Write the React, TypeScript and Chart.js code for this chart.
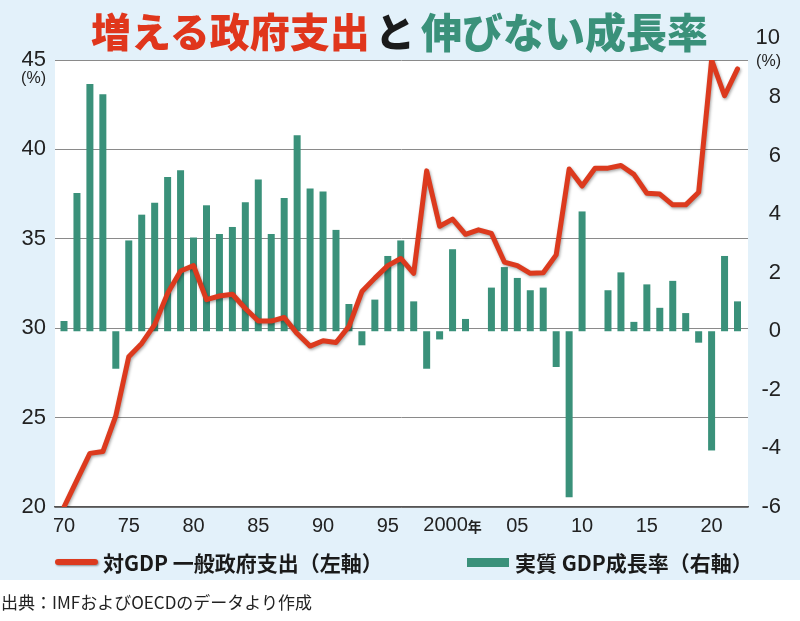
import React, { useEffect, useRef } from 'react';
import { Chart, registerables } from 'chart.js';

Chart.register(...registerables);

// ---- data ----
const years = [
  1970, 1971, 1972, 1973, 1974, 1975, 1976, 1977, 1978, 1979,
  1980, 1981, 1982, 1983, 1984, 1985, 1986, 1987, 1988, 1989,
  1990, 1991, 1992, 1993, 1994, 1995, 1996, 1997, 1998, 1999,
  2000, 2001, 2002, 2003, 2004, 2005, 2006, 2007, 2008, 2009,
  2010, 2011, 2012, 2013, 2014, 2015, 2016, 2017, 2018, 2019,
  2020, 2021, 2022,
];

// 対GDP 一般政府支出 (%, left axis)
const govSpending = [
  20.0, 21.5, 23.0, 23.1, 25.1, 28.4, 29.15, 30.2, 31.95, 33.2,
  33.5, 31.6, 31.8, 31.9, 31.1, 30.4, 30.4, 30.6, 29.7, 29.0,
  29.3, 29.2, 30.1, 32.05, 32.8, 33.5, 33.9, 33.07, 38.8, 35.7,
  36.1, 35.25, 35.5, 35.3, 33.7, 33.5, 33.07, 33.1, 34.1, 38.9,
  37.95, 38.95, 38.95, 39.1, 38.6, 37.55, 37.5, 36.9, 36.9, 37.6,
  45.0, 43.0, 44.5,
];

// 実質 GDP 成長率 (%, right axis)
const realGrowth = [
  0.35, 4.72, 8.44, 8.09, -1.28, 3.1, 3.98, 4.39, 5.27, 5.5,
  3.2, 4.3, 3.32, 3.56, 4.4, 5.18, 3.32, 4.55, 6.69, 4.87,
  4.77, 3.46, 0.93, -0.48, 1.08, 2.57, 3.1, 1.02, -1.28, -0.28,
  2.8, 0.42, 0.0, 1.49, 2.19, 1.82, 1.4, 1.49, -1.22, -5.67,
  4.09, 0.0, 1.4, 2.01, 0.32, 1.6, 0.8, 1.72, 0.62, -0.39,
  -4.07, 2.57, 1.02,
];

const xTickYears = [1970, 1975, 1980, 1985, 1990, 1995, 2000, 2005, 2010, 2015, 2020];
const xTickLabels = ['70', '75', '80', '85', '90', '95', '2000', '05', '10', '15', '20'];
const leftTicks = [20, 25, 30, 35, 40, 45];
const rightTicks = [-6, -4, -2, 0, 2, 4, 6, 8];
const rightTopLabel = 10;

const RED = '#dc3a1e';
const GREEN = '#3a917a';
const BLUE_BG = '#e3f1fa';
const TICK_FONT = '"Liberation Sans", Arial, sans-serif';
const JP_FONT = '"Noto Sans CJK JP", "Noto Sans", sans-serif';

const plotBgPlugin = {
  id: 'plotBg',
  beforeDraw(chart: any) {
    const { ctx, chartArea } = chart;
    ctx.save();
    ctx.fillStyle = '#ffffff';
    ctx.fillRect(chartArea.left, chartArea.top, chartArea.right - chartArea.left, chartArea.bottom - chartArea.top);
    ctx.restore();
  },
};

const lineShadowPlugin = {
  id: 'lineShadow',
  beforeDatasetDraw(chart: any, args: any) {
    if (args.meta.type === 'line') {
      const ctx = chart.ctx;
      ctx.save();
      ctx.shadowColor = 'rgba(0,0,0,0.35)';
      ctx.shadowBlur = 3;
      ctx.shadowOffsetX = 1;
      ctx.shadowOffsetY = 1.5;
    }
  },
  afterDatasetDraw(chart: any, args: any) {
    if (args.meta.type === 'line') {
      chart.ctx.restore();
    }
  },
};

const extraLabelsPlugin = {
  id: 'extraLabels',
  afterDraw(chart: any) {
    const { ctx, scales } = chart;
    const yL = scales.y;
    const yR = scales.y2;
    const x = scales.x;
    ctx.save();
    ctx.fillStyle = '#222';
    ctx.textBaseline = 'middle';
    // (%) under left 45
    ctx.font = `16px ${TICK_FONT}`;
    ctx.textAlign = 'right';
    ctx.fillText('(%)', 46, yL.getPixelForValue(45) + 19);
    // right top "10" and (%)
    const y10 = yR.getPixelForValue(rightTopLabel);
    ctx.font = `22px ${TICK_FONT}`;
    ctx.textAlign = 'right';
    ctx.fillText(String(rightTopLabel), 780, y10);
    ctx.font = `16px ${TICK_FONT}`;
    ctx.fillText('(%)', 781, y10 + 23);
    // 2000年
    const px = x.getPixelForValue(2000);
    const yLab = chart.chartArea.bottom + 18;
    ctx.font = `20px ${TICK_FONT}`;
    const w1 = ctx.measureText('2000').width;
    ctx.font = `bold 14px ${JP_FONT}`;
    const w2 = ctx.measureText('年').width;
    const start = px - (w1 + w2) / 2;
    ctx.textAlign = 'left';
    ctx.font = `20px ${TICK_FONT}`;
    ctx.fillText('2000', start, yLab);
    ctx.font = `bold 14px ${JP_FONT}`;
    ctx.fillText('年', start + w1, yLab + 2);
    ctx.restore();
  },
};

function ChartCanvas() {
  const ref = useRef<HTMLCanvasElement | null>(null);
  useEffect(() => {
    if (!ref.current) return;
    const chart = new Chart(ref.current, {
      type: 'bar',
      data: {
        datasets: [
          {
            type: 'line',
            label: '対GDP 一般政府支出（左軸）',
            data: years.map((yr, i) => ({ x: yr, y: govSpending[i] })),
            yAxisID: 'y',
            xAxisID: 'x',
            borderColor: RED,
            borderWidth: 5,
            pointRadius: 0,
            tension: 0,
            borderJoinStyle: 'round',
            borderCapStyle: 'round',
            order: 0,
          } as any,
          {
            type: 'bar',
            label: '実質 GDP成長率（右軸）',
            data: years.map((yr, i) => ({ x: yr, y: realGrowth[i] })),
            yAxisID: 'y2',
            xAxisID: 'x',
            backgroundColor: GREEN,
            barThickness: 7,
            inflateAmount: 0,
            borderWidth: 0,
            order: 1,
          } as any,
        ],
      },
      options: {
        animation: false,
        responsive: true,
        maintainAspectRatio: false,
        layout: { padding: { top: 60, left: 0, right: 19, bottom: 0 } },
        plugins: {
          legend: { display: false },
          tooltip: { enabled: false },
          title: { display: false },
        },
        scales: {
          x: {
            type: 'linear',
            min: 1969.305,
            max: 2022.81,
            offset: false,
            grid: { display: false },
            border: { display: true, color: '#555', width: 1.5 },
            afterBuildTicks: (scale: any) => {
              scale.ticks = xTickYears.map((v) => ({ value: v }));
            },
            afterFit: (scale: any) => {
              scale.height = 114;
            },
            ticks: {
              autoSkip: false,
              maxRotation: 0,
              padding: -1,
              color: '#222',
              font: { family: TICK_FONT, size: 20 },
              callback: (value: any) => {
                const idx = xTickYears.indexOf(Number(value));
                if (idx < 0) return '';
                const lab = xTickLabels[idx];
                return lab === '2000' ? '' : lab;
              },
            },
          },
          y: {
            type: 'linear',
            position: 'left',
            min: 20,
            max: 45,
            afterBuildTicks: (scale: any) => {
              scale.ticks = leftTicks.map((v) => ({ value: v }));
            },
            afterFit: (scale: any) => {
              scale.width = 55;
            },
            grid: { color: '#8a8a8a', lineWidth: 1, drawTicks: false },
            border: { display: false },
            ticks: {
              padding: 9,
              color: '#222',
              font: { family: TICK_FONT, size: 22 },
            },
          },
          y2: {
            type: 'linear',
            position: 'right',
            min: -6,
            max: 9.26,
            afterBuildTicks: (scale: any) => {
              scale.ticks = rightTicks.map((v) => ({ value: v }));
            },
            afterFit: (scale: any) => {
              scale.width = 33;
            },
            grid: { display: false, drawTicks: false },
            border: { display: false },
            ticks: {
              crossAlign: 'far',
              padding: 4,
              color: '#222',
              font: { family: TICK_FONT, size: 22 },
            },
          },
        },
      } as any,
      plugins: [plotBgPlugin, lineShadowPlugin, extraLabelsPlugin],
    });
    return () => chart.destroy();
  }, []);
  return <canvas ref={ref} />;
}

export default function App() {
  return (
    <div style={{ position: 'absolute', left: 0, top: 0, width: 800, height: 621, background: '#ffffff', overflow: 'hidden' }}>
      <div style={{ position: 'absolute', left: 0, top: 0, width: 800, height: 580, background: BLUE_BG }} />
      <div style={{ position: 'absolute', left: 0, top: 0, width: 800, height: 621 }}>
        <ChartCanvas />
      </div>
      {/* title */}
      <div style={{ position: 'absolute', left: 91, top: 9, fontFamily: JP_FONT, fontWeight: 900, fontSize: 40, lineHeight: '42px', color: '#e0361c', whiteSpace: 'nowrap' }}>
        増える政府支出
      </div>
      <div style={{ position: 'absolute', left: 375, top: 9, fontFamily: JP_FONT, fontWeight: 900, fontSize: 40, lineHeight: '42px', color: '#1a1a1a', whiteSpace: 'nowrap' }}>
        と
      </div>
      <div style={{ position: 'absolute', left: 421, top: 9, fontFamily: JP_FONT, fontWeight: 900, fontSize: 41, lineHeight: '42px', color: GREEN, whiteSpace: 'nowrap' }}>
        伸びない成長率
      </div>
      {/* legend */}
      <div style={{ position: 'absolute', left: 55, top: 559, width: 43, height: 6, borderRadius: 3, background: RED, boxShadow: '1px 1px 2px rgba(0,0,0,0.4)' }} />
      <div style={{ position: 'absolute', left: 103, top: 549, fontFamily: JP_FONT, fontWeight: 700, fontSize: 21, lineHeight: '26px', color: '#1a1a1a', whiteSpace: 'nowrap' }}>
        対GDP 一般政府支出（左軸）
      </div>
      <div style={{ position: 'absolute', left: 467, top: 558, width: 42, height: 9, background: GREEN }} />
      <div style={{ position: 'absolute', left: 515, top: 549, fontFamily: JP_FONT, fontWeight: 700, fontSize: 21, lineHeight: '26px', color: '#1a1a1a', whiteSpace: 'nowrap' }}>
        実質 GDP成長率（右軸）
      </div>
      {/* source */}
      <div style={{ position: 'absolute', left: 1, top: 590, fontFamily: JP_FONT, fontWeight: 400, fontSize: 17, lineHeight: '24px', color: '#222', whiteSpace: 'nowrap' }}>
        出典：IMFおよびOECDのデータより作成
      </div>
    </div>
  );
}
